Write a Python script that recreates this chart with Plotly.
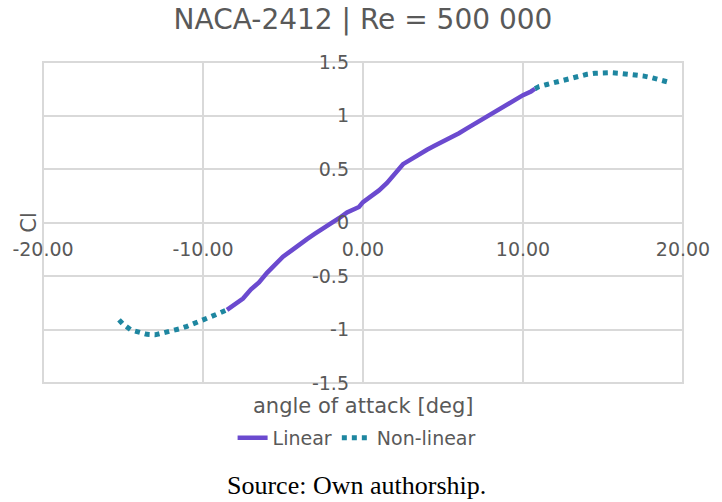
import plotly.graph_objects as go

# Lift coefficient of NACA-2412 at Re = 500 000 versus angle of attack
alpha_linear = [-8.5, -8.0, -7.5, -7.0, -6.5, -6.0, -5.5, -5.0, -4.5, -4.0, -3.5,
                -3.0, -2.5, -2.0, -1.5, -1.0, -0.5, -0.25, 0.0, 0.5, 1.0, 1.5,
                2.0, 2.5, 3.0, 3.5, 4.0, 4.5, 5.0, 5.5, 6.0, 6.5, 7.0, 7.5,
                8.0, 8.5, 9.0, 9.5, 10.0, 10.5, 10.75]
cl_linear = [-0.816, -0.765, -0.71, -0.625, -0.56, -0.47, -0.40, -0.32, -0.265,
             -0.205, -0.155, -0.105, -0.06, -0.01, 0.04, 0.095, 0.125, 0.145,
             0.19, 0.24, 0.30, 0.37, 0.45, 0.545, 0.59, 0.64, 0.68, 0.72,
             0.755, 0.79, 0.835, 0.88, 0.925, 0.97, 1.02, 1.06, 1.10, 1.15,
             1.19, 1.225, 1.25]

# Non-linear region: negative stall branch and positive stall branch
alpha_nl_neg = [-15.25, -15.0, -14.5, -14.0, -13.5, -13.0, -12.5, -12.0, -11.5,
                -11.0, -10.5, -10.0, -9.5, -9.0, -8.5]
cl_nl_neg = [-0.91, -0.95, -1.005, -1.03, -1.045, -1.05, -1.035, -1.015, -0.995,
             -0.97, -0.945, -0.91, -0.88, -0.85, -0.816]
alpha_nl_pos = [10.75, 11.0, 11.5, 12.0, 12.5, 13.0, 13.5, 14.0, 14.5, 15.0,
                15.5, 16.0, 16.5, 17.0, 17.5, 18.0, 18.5, 19.0]
cl_nl_pos = [1.25, 1.27, 1.29, 1.31, 1.33, 1.355, 1.375, 1.385, 1.395, 1.40,
             1.40, 1.395, 1.39, 1.38, 1.37, 1.355, 1.34, 1.315]

x_ticks = [-20, -10, 0, 10, 20]
x_tick_text = ["-20.00", "-10.00", "0.00", "10.00", "20.00"]
y_ticks = [-1.5, -1, -0.5, 0, 0.5, 1, 1.5]
y_tick_text = ["-1.5", "-1", "-0.5", "0", "0.5", "1", "1.5"]

FONT = "DejaVu Sans"
TXT = "#595959"
GRID = "#D9D9D9"

fig = go.Figure()
fig.add_trace(go.Scatter(
    x=alpha_linear, y=cl_linear, mode="lines", name="Linear",
    line=dict(color="#6B4ACF", width=4.5),
))
fig.add_trace(go.Scatter(
    x=alpha_nl_neg + [None] + alpha_nl_pos,
    y=cl_nl_neg + [None] + cl_nl_pos,
    mode="lines", name="Non-linear", connectgaps=False,
    line=dict(color="#1E86A0", width=5, dash="5px,5px"),
))

fig.update_layout(
    width=722, height=502,
    margin=dict(l=43, r=29, t=62, b=119),
    paper_bgcolor="white", plot_bgcolor="white",
    font=dict(family=FONT, color=TXT, size=19),
    title=dict(text="NACA-2412 | Re = 500 000", x=0.5, xref="paper",
               y=1 - 19 / 502, yanchor="middle",
               font=dict(family=FONT, size=28, color=TXT)),
    showlegend=True,
    legend=dict(orientation="h", x=0.49, xanchor="center", y=-0.171,
                yanchor="middle", font=dict(family=FONT, size=19, color=TXT),
                bgcolor="rgba(0,0,0,0)"),
    xaxis=dict(range=[-20, 20], tickvals=x_ticks, ticktext=x_tick_text,
               showgrid=True, gridcolor=GRID, gridwidth=2, zeroline=False,
               showline=False, ticks="", anchor="free", position=0.5,
               ticklabelstandoff=13, fixedrange=True),
    yaxis=dict(range=[-1.5, 1.5], tickvals=y_ticks, ticktext=y_tick_text,
               showgrid=True, gridcolor=GRID, gridwidth=2, zeroline=False,
               showline=False, ticks="", anchor="free", position=0.5,
               ticklabelstandoff=14, fixedrange=True),
    # plot-area frame (outer gridlines)
    shapes=[dict(type="rect", xref="paper", yref="paper", x0=0, x1=1,
                 y0=0, y1=1, line=dict(color=GRID, width=2), layer="below")],
    annotations=[
        dict(text="angle of attack [deg]", xref="paper", yref="paper",
             x=0.5, y=-0.072, xanchor="center", yanchor="middle",
             showarrow=False, font=dict(family=FONT, size=21, color=TXT)),
        dict(text="Cl", xref="paper", yref="paper", x=-0.023, y=0.5,
             xanchor="center", yanchor="middle", textangle=-90,
             showarrow=False, font=dict(family=FONT, size=21, color=TXT)),
        dict(text="Source: Own authorship.", xref="paper", yref="paper",
             x=0.49, y=-0.318, xanchor="center", yanchor="middle",
             showarrow=False,
             font=dict(family="Liberation Serif", size=26, color="black")),
    ],
)

fig.write_html("out.html")
